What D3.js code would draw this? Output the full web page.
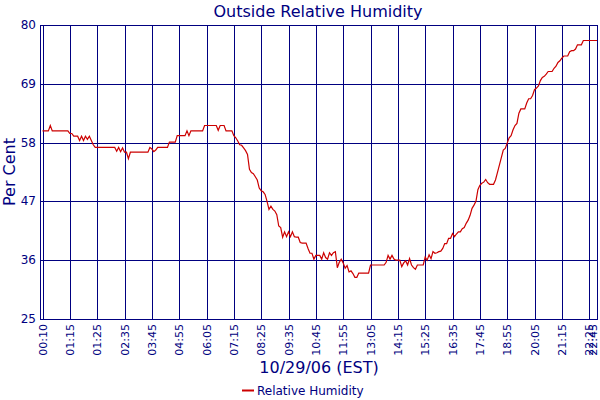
<!DOCTYPE html>
<html>
<head>
<meta charset="utf-8">
<script src="https://cdn.jsdelivr.net/npm/d3@7"></script>
<style>
  body { margin: 0; background: #fff; }
  text { font-family: "DejaVu Sans", Verdana, sans-serif; fill: #000080; }
</style>
</head>
<body>
<div id="chart"></div>
<script>
// 5-minute samples, 10/29/06 (day of the DST change, so the clock repeats 01:xx)
const tickLabels = ["00:10", "01:15", "01:25", "02:35", "03:45", "04:55", "06:05", "07:15",
  "08:25", "09:35", "10:45", "11:55", "13:05", "14:15", "15:25", "16:35", "17:45",
  "18:55", "20:05", "21:15", "22:25", "22:45"];
const tickIndex = [0, 14, 28, 42, 56, 70, 84, 98, 112, 126, 140, 154, 168, 182, 196,
  210, 224, 238, 252, 266, 280, 284];
const yTicks = [25, 36, 47, 58, 69, 80];

const humidity = [
  // 00:10
  60.2, 60.2, 60.2, 60.2, 61.2, 60.2, 60.2, 60.2, 60.2, 60.2, 60.2, 60.2, 60.2, 60.2,
  // 01:15
  59.7, 59.7, 59.2, 59.2, 59.2, 58.4, 59.2, 58.4, 59.2, 58.6, 59.2, 58.4, 57.6, 57.1,
  // 01:25
  57.1, 57.1, 57.1, 57.1, 57.1, 57.1, 57.1, 57.1, 57.1, 57.1, 56.4, 57.1, 56.3, 57.0,
  // 02:35
  56.2, 56.2, 55.0, 56.2, 56.2, 56.2, 56.2, 56.2, 56.2, 56.2, 56.2, 56.2, 56.2, 57.1,
  // 03:45
  56.8, 56.3, 56.6, 57.1, 57.1, 57.1, 57.1, 57.1, 57.1, 58.1, 58.1, 58.1, 58.1, 59.3,
  // 04:55
  59.3, 59.3, 59.3, 59.3, 60.2, 59.3, 60.2, 60.2, 60.2, 60.2, 60.2, 60.2, 60.2, 61.2,
  // 06:05
  61.2, 61.2, 61.2, 61.2, 61.2, 61.2, 60.3, 61.2, 61.2, 61.2, 60.2, 60.2, 60.2, 60.2,
  // 07:15
  59.3, 58.9, 58.3, 57.6, 57.5, 57.0, 56.5, 55.8, 53.0, 52.4, 52.2, 51.6, 51.0, 49.5,
  // 08:25
  49.0, 48.8, 48.3, 47.0, 45.5, 46.1, 45.5, 45.2, 44.5, 42.4, 42.1, 40.3, 41.3, 40.4,
  // 09:35
  41.3, 40.4, 41.3, 40.4, 40.3, 40.3, 39.3, 39.2, 39.2, 39.2, 38.2, 37.3, 37.3, 36.2,
  // 10:45
  36.9, 36.9, 36.9, 36.2, 37.4, 36.5, 36.2, 37.4, 36.9, 37.4, 37.6, 34.6, 35.6, 36.2,
  // 11:55
  35.5, 34.5, 35.0, 33.8, 34.0, 33.5, 32.8, 32.8, 33.6, 33.6, 33.6, 33.6, 33.6, 33.6,
  // 13:05
  35.1, 35.1, 35.1, 35.1, 35.1, 35.1, 35.1, 35.1, 35.6, 36.9, 36.2, 36.9, 36.2, 36.0,
  // 14:15
  36.0, 36.0, 34.8, 35.5, 35.9, 35.1, 36.3, 35.1, 34.6, 34.3, 35.1, 35.1, 35.1, 35.1,
  // 15:25
  36.6, 36.0, 37.0, 36.3, 37.6, 37.3, 37.4, 37.6, 37.7, 38.2, 39.1, 39.1, 40.1, 40.1,
  // 16:35
  41.0, 40.4, 40.9, 41.3, 41.3, 41.9, 42.1, 42.9, 43.5, 44.4, 45.7, 46.3, 47.0, 49.2,
  // 17:45
  50.0, 50.4, 50.6, 51.1, 50.5, 50.2, 50.2, 50.2, 51.0, 52.4, 53.8, 55.2, 56.6, 56.9,
  // 18:55
  57.9, 58.9, 59.3, 60.4, 61.2, 61.6, 63.5, 64.3, 64.3, 64.3, 65.4, 66.2, 66.2, 66.8,
  // 20:05
  67.9, 68.2, 68.6, 69.6, 70.2, 70.4, 70.8, 71.3, 71.3, 71.3, 71.9, 72.3, 73.0, 73.3,
  // 21:15
  73.8, 74.2, 74.2, 74.2, 75.0, 75.2, 75.2, 75.5, 76.3, 76.3, 76.3, 77.1, 77.1, 77.1,
  // 22:25 .. 22:45
  77.1, 77.1, 77.1, 77.1, 77.1
];

const W = 600, H = 400;
const plot = { left: 40, right: 598, top: 25, bottom: 319 };

const svg = d3.select("#chart").append("svg")
  .attr("width", W)
  .attr("height", H);

const x = d3.scaleLinear().domain([0, humidity.length - 1]).range([42.5, 597]);
const y = d3.scaleLinear().domain([25, 80]).range([plot.bottom, plot.top]);

// frame
svg.append("rect")
  .attr("x", plot.left + 0.5)
  .attr("y", plot.top + 0.5)
  .attr("width", plot.right - plot.left - 1)
  .attr("height", plot.bottom - plot.top)
  .attr("fill", "none")
  .attr("stroke", "#000080")
  .attr("shape-rendering", "crispEdges");

// horizontal grid + y labels
svg.append("g")
  .selectAll("line")
  .data(yTicks)
  .join("line")
  .attr("x1", plot.left)
  .attr("x2", plot.right)
  .attr("y1", d => Math.round(y(d)) + 0.5)
  .attr("y2", d => Math.round(y(d)) + 0.5)
  .attr("stroke", "#000080")
  .attr("shape-rendering", "crispEdges");

svg.append("g")
  .selectAll("text")
  .data(yTicks)
  .join("text")
  .attr("x", 36)
  .attr("y", d => y(d) + 4)
  .attr("text-anchor", "end")
  .attr("font-size", 12)
  .text(d => d);

// vertical grid + rotated time labels
svg.append("g")
  .selectAll("line")
  .data(tickIndex)
  .join("line")
  .attr("x1", d => Math.round(x(d)) + 0.5)
  .attr("x2", d => Math.round(x(d)) + 0.5)
  .attr("y1", plot.top)
  .attr("y2", plot.bottom)
  .attr("stroke", "#000080")
  .attr("shape-rendering", "crispEdges");

// last label would run off the right edge, so keep it inside
svg.append("g")
  .selectAll("text")
  .data(tickIndex)
  .join("text")
  .attr("transform", d => `translate(${Math.min(x(d) + 4, 597)},${plot.bottom + 5}) rotate(-90)`)
  .attr("text-anchor", "end")
  .attr("font-size", 11)
  .text((d, i) => tickLabels[i]);

// humidity line
svg.append("path")
  .datum(humidity)
  .attr("d", d3.line().x((d, i) => x(i)).y(d => y(d)))
  .attr("fill", "none")
  .attr("stroke", "#cc0000")
  .attr("stroke-width", 1.2);

// titles
svg.append("text")
  .attr("x", 318)
  .attr("y", 17)
  .attr("text-anchor", "middle")
  .attr("font-size", 16)
  .text("Outside Relative Humidity");

svg.append("text")
  .attr("transform", "translate(15,172) rotate(-90)")
  .attr("text-anchor", "middle")
  .attr("font-size", 16)
  .text("Per Cent");

svg.append("text")
  .attr("x", 319)
  .attr("y", 373)
  .attr("text-anchor", "middle")
  .attr("font-size", 16)
  .text("10/29/06 (EST)");

// legend
svg.append("line")
  .attr("x1", 242).attr("x2", 254)
  .attr("y1", 390.5).attr("y2", 390.5)
  .attr("stroke", "#cc0000")
  .attr("stroke-width", 2);

svg.append("text")
  .attr("x", 257)
  .attr("y", 395)
  .attr("font-size", 12)
  .text("Relative Humidity");
</script>
</body>
</html>
